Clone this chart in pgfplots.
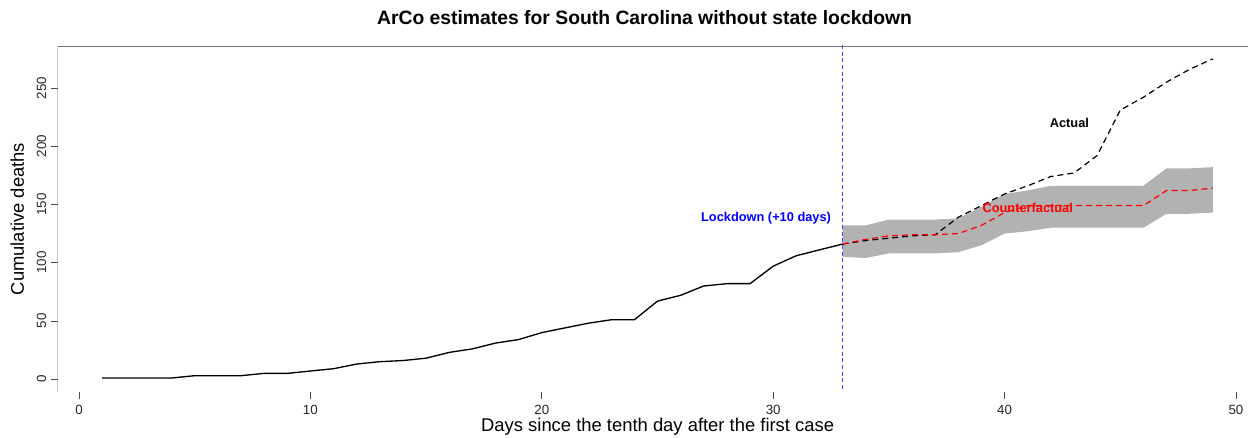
\documentclass[border=0pt]{standalone}
\usepackage{fontspec}
\setmainfont{Liberation Sans}
\usepackage{pgfplots}
\usepackage{pgfplotstable}
\pgfplotsset{compat=1.18}
\usepgfplotslibrary{fillbetween}

\pgfplotstableread{
day deaths
1 1
2 1
3 1
4 1
5 3
6 3
7 3
8 5
9 5
10 7
11 9
12 13
13 15
14 16
15 18
16 23
17 26
18 31
19 34
20 40
21 44
22 48
23 51
24 51
25 67
26 72
27 80
28 82
29 82
30 97
31 106
32 111
33 116
}\pre

\pgfplotstableread{
day actual cf upper lower
33 116 116 132 105
34 119 120 132 104
35 121 123 137 108
36 123 124 137 108
37 124 124 137 108
38 139 125 138 109
39 149 132 148 115
40 159 143 159 125
41 166 149 162 127
42 174 149 166 130
43 177 149 166 130
44 192 149 166 130
45 231 149 166 130
46 242 149 166 130
47 255 162 181 142
48 266 162 181 142
49 275 164 182 143
}\post

\begin{document}
\begin{tikzpicture}
\begin{axis}[
  name=ax,
  scale only axis,
  width=892.7pt, height=259.5pt,
  xmin=-0.92, xmax=50.52,
  ymin=-11, ymax=286,
  xtick={0,10,20,30,40,50},
  ytick={0,50,100,150,200,250},
  xtick pos=lower, ytick pos=left,
  tick align=outside,
  major tick length=5pt,
  every tick/.style={black!70, line width=0.6pt},
  axis line style={draw=none},
  tick label style={font=\fontsize{10}{12}\selectfont, black!85},
  /pgf/number format/assume math mode=true,
  yticklabel style={rotate=90, anchor=south, xshift=0pt},
  xticklabel style={yshift=-1pt},
  title={\textbf{ArCo estimates for South Carolina without state lockdown}},
  title style={at={(rel axis cs:0.493,1.058)}, anchor=center, font=\fontsize{14.5}{16}\selectfont},
  xlabel={Days since the tenth day after the first case},
  xlabel style={at={(rel axis cs:0.504,-0.101)}, anchor=center, font=\fontsize{13.8}{15}\selectfont},
  ylabel={Cumulative deaths},
  ylabel style={at={(rel axis cs:-0.034,0.5)}, anchor=center, rotate=0, font=\fontsize{13.8}{15}\selectfont},
  clip=true,
]
\addplot[name path=up, draw=none, forget plot] table[x=day, y=upper] {\post};
\addplot[name path=lo, draw=none, forget plot] table[x=day, y=lower] {\post};
\addplot[fill=black!30, draw=none] fill between[of=up and lo];
\addplot[black, line width=1pt] table[x=day, y=deaths] {\pre};
\addplot[black, line width=0.9pt, dash pattern=on 4.5pt off 3pt] table[x=day, y=actual] {\post};
\addplot[red, line width=0.9pt, dash pattern=on 4.5pt off 3pt] table[x=day, y=cf] {\post};
\addplot[blue!75!white, line width=0.8pt, dash pattern=on 3pt off 2pt] coordinates {(33,-20) (33,300)};
\draw[black!55, line width=0.7pt] (rel axis cs:1,0) -- (rel axis cs:0,0) -- (rel axis cs:0,1) -- (rel axis cs:1,1);
\node[font=\fontsize{9.6}{11}\selectfont\bfseries] at (axis cs:42.8,220) {Actual};
\node[font=\fontsize{9.6}{11}\selectfont\bfseries, text=red] at (axis cs:41.0,147) {Counterfactual};
\node[font=\fontsize{9.6}{11}\selectfont\bfseries, text=blue, anchor=east] at (axis cs:32.7,138) {Lockdown (+10 days)};
\end{axis}
\pgfresetboundingbox
\path[use as bounding box] ([shift={(-43.3pt,-34.5pt)}]ax.south west) rectangle ([shift={(0pt,34.5pt)}]ax.north east);
\end{tikzpicture}
\end{document}
